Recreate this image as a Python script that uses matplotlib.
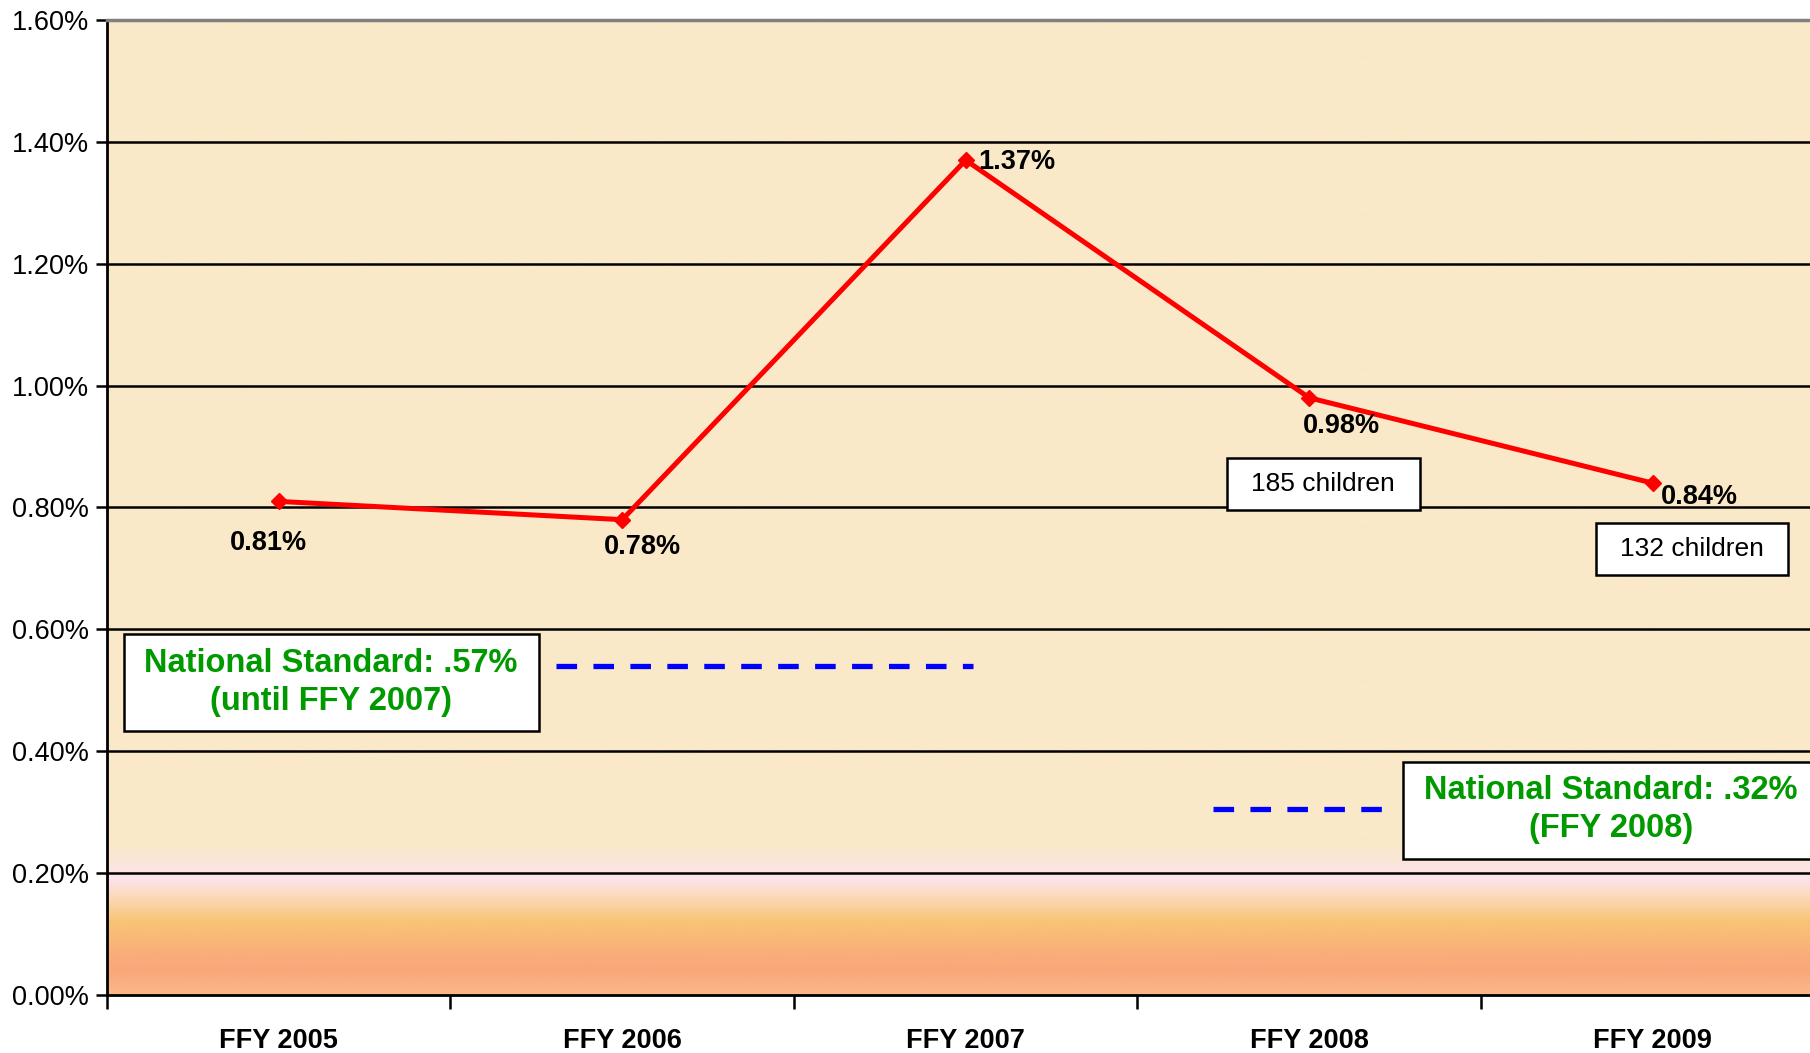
import numpy as np
import matplotlib
matplotlib.use('Agg')
import matplotlib.pyplot as plt
from matplotlib.patches import Rectangle
from matplotlib.colors import to_rgb
from matplotlib.ticker import FuncFormatter, FixedLocator

# data
years = ['FFY 2005', 'FFY 2006', 'FFY 2007', 'FFY 2008', 'FFY 2009']
rates = [0.81, 0.78, 1.37, 0.98, 0.84]
rate_labels = ['0.81%', '0.78%', '1.37%', '0.98%', '0.84%']
children_notes = ['185 children', '132 children']
standard_old = 0.54
standard_new = 0.305
standard_texts = ['National Standard: .57%\n(until FFY 2007)',
                  'National Standard: .32%\n(FFY 2008)']

bold_font = ['Liberation Sans', 'Arial', 'DejaVu Sans']
regular = ['Liberation Sans', 'Arial', 'DejaVu Sans']

fig = plt.figure(figsize=(18.10, 10.53), dpi=100)
ax = fig.add_axes([0.0591, 0.0551, 0.9489, 0.9259])

x = np.arange(len(years))
ax.set_xlim(-0.5, len(years) - 0.5)
ax.set_ylim(0, 1.6)

# background gradient
stops_v = [0.0, 0.04, 0.07, 0.12, 0.16, 0.19, 0.22, 0.25, 1.6]
stops_c = ['#F9B88A', '#F9A77A', '#F9AF7A', '#F9C476', '#FBD9B8', '#FDE4EE',
           '#FBE6D8', '#FAE9C8', '#FAE9C8']
yy = np.linspace(0, 1.6, 800)
rgb = np.array([to_rgb(c) for c in stops_c])
grad = np.stack([np.interp(yy, stops_v, rgb[:, k]) for k in range(3)], axis=-1)
grad = grad[:, None, :]
ax.imshow(grad, extent=(-0.5, len(years) - 0.5, 0, 1.6), origin='lower',
          aspect='auto', zorder=0, interpolation='bilinear')

# grid
for g in np.arange(0.2, 1.6, 0.2):
    ax.axhline(g, color='black', lw=1.8, zorder=1)

# standards
ax.plot([0.806, 2.02], [standard_old, standard_old], color='#0000FF', lw=3.8,
        dashes=(3.9, 3.1), dash_capstyle='butt', zorder=2)
ax.plot([2.72, 3.22], [standard_new, standard_new], color='#0000FF', lw=3.8,
        dashes=(3.9, 3.1), dash_capstyle='butt', zorder=2)

# main line
ax.plot(x, rates, color='#FF0000', lw=3.6, marker='D', markersize=8, zorder=4)

label_pos = [(-0.03, 0.742), (1.06, 0.735), (2.15, 1.367), (3.093, 0.934), (4.137, 0.817)]
for lab, (lx, ly) in zip(rate_labels, label_pos):
    ax.text(lx, ly, lab, ha='center', va='center', fontsize=19.5, fontweight='bold',
            family=bold_font, zorder=5)

# children boxes
child_boxes = [(2.760, 0.796, 0.562, 0.085), (3.834, 0.689, 0.559, 0.085)]
for txt, (bx, by, bw, bh) in zip(children_notes, child_boxes):
    ax.add_patch(Rectangle((bx, by), bw, bh, facecolor='white', edgecolor='black',
                           lw=1.8, zorder=5))
    ax.text(bx + bw / 2, by + bh / 2, txt, ha='center', va='center', fontsize=19,
            family=regular, zorder=6)

# standard boxes
std_boxes = [(-0.451, 0.433, 1.208, 0.159), (3.272, 0.223, 1.4, 0.159)]
std_text_pos = [(0.152, 0.513), (3.878, 0.305)]
for txt, (bx, by, bw, bh), (tx, ty) in zip(standard_texts, std_boxes, std_text_pos):
    ax.add_patch(Rectangle((bx, by), bw, bh, facecolor='white', edgecolor='black',
                           lw=1.8, zorder=5, clip_on=False))
    ax.text(tx, ty, txt, ha='center', va='center', fontsize=23.5, fontweight='bold',
            family=bold_font, color='#009A00', linespacing=1.3, zorder=6)

# axes styling
ax.yaxis.set_major_locator(FixedLocator(np.arange(0, 1.61, 0.2)))
ax.yaxis.set_major_formatter(FuncFormatter(lambda v, p: '%.2f%%' % v))
ax.tick_params(axis='y', direction='out', length=8, width=1.8, labelsize=19.5, pad=5)
for t in ax.get_yticklabels():
    t.set_family(regular)

ax.set_xticks(x)
ax.set_xticklabels(years, fontsize=19.5, fontweight='bold', family=bold_font)
ax.set_xticks(np.arange(-0.5, len(years), 1.0), minor=True)
ax.tick_params(axis='x', which='major', length=0, pad=24)
ax.tick_params(axis='x', which='minor', direction='out', length=10, width=1.8)

ax.spines['left'].set_linewidth(2)
ax.spines['bottom'].set_linewidth(2)
ax.spines['top'].set_color('#808080')
ax.spines['top'].set_linewidth(2.5)
ax.spines['right'].set_visible(False)

fig.savefig('out.png', dpi=100, facecolor='white')
